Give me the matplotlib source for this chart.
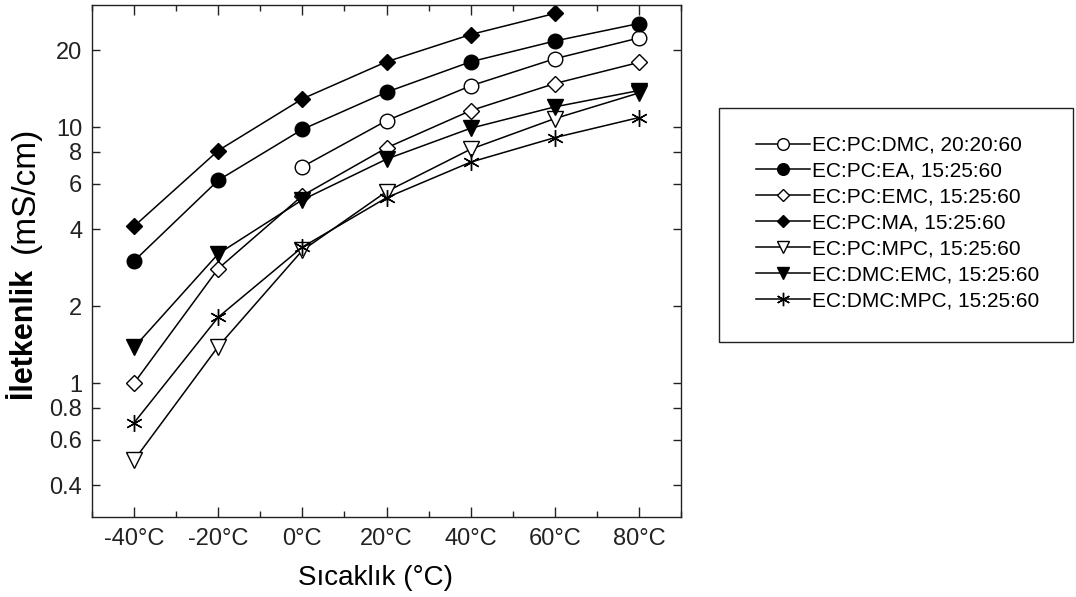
import matplotlib
matplotlib.use("Agg")
import matplotlib.pyplot as plt
import matplotlib.patches as patches
from matplotlib.ticker import FixedLocator, NullLocator, MultipleLocator

plt.rcParams["font.family"] = ["Liberation Sans", "DejaVu Sans"]

# ---------------------------------------------------------------------------
# Data
# ---------------------------------------------------------------------------
temps = [-40, -20, 0, 20, 40, 60, 80]
temp_labels = ["-40°C", "-20°C", "0°C", "20°C", "40°C", "60°C", "80°C"]

pc_dmc = [None, None, 7.0, 10.6, 14.5, 18.5, 22.3]
pc_ea = [3.0, 6.2, 9.8, 13.7, 18.0, 21.7, 25.4]
pc_emc = [1.0, 2.8, 5.4, 8.3, 11.6, 14.8, 17.9]
pc_ma = [4.1, 8.1, 12.9, 18.0, 23.0, 27.8, None]
pc_mpc = [0.50, 1.39, 3.3, 5.6, 8.2, 10.8, 13.6]
dmc_emc = [1.38, 3.2, 5.2, 7.5, 9.9, 12.0, 13.9]
dmc_mpc = [0.70, 1.81, 3.4, 5.3, 7.3, 9.1, 10.9]

series_labels = [
    "EC:PC:DMC, 20:20:60",
    "EC:PC:EA, 15:25:60",
    "EC:PC:EMC, 15:25:60",
    "EC:PC:MA, 15:25:60",
    "EC:PC:MPC, 15:25:60",
    "EC:DMC:EMC, 15:25:60",
    "EC:DMC:MPC, 15:25:60",
]

y_ticks = [0.4, 0.6, 0.8, 1, 2, 4, 6, 8, 10, 20]
y_tick_labels = ["0.4", "0.6", "0.8", "1", "2", "4", "6", "8", "10", "20"]

# marker style per series: (marker, size, face colour)
styles = [
    ("o", 10.5, "white"),
    ("o", 10.5, "black"),
    ("D", 8, "white"),
    ("D", 8, "black"),
    ("v", 11, "white"),
    ("v", 11, "black"),
    ((6, 2, 0), 12, "black"),
]

W, H = 1076, 597
fig = plt.figure(figsize=(W / 100, H / 100), dpi=100)
ax = fig.add_axes([92 / W, 1 - 517 / H, (681 - 92) / W, (517 - 5) / H])

all_series = [pc_dmc, pc_ea, pc_emc, pc_ma, pc_mpc, dmc_emc, dmc_mpc]
handles = []
for vals, label, (mk, ms, fc) in zip(all_series, series_labels, styles):
    xs = [t for t, v in zip(temps, vals) if v is not None]
    ys = [v for v in vals if v is not None]
    (h,) = ax.plot(
        xs, ys, color="black", linewidth=1.1,
        marker=mk, markersize=ms, markerfacecolor=fc,
        markeredgecolor="black", markeredgewidth=1.0, label=label,
    )
    handles.append(h)

ax.set_yscale("log")
ax.set_xlim(-50, 90)
ax.set_ylim(0.3, 30)

ax.xaxis.set_major_locator(FixedLocator(temps))
ax.set_xticklabels(temp_labels)
ax.xaxis.set_minor_locator(MultipleLocator(10))
ax.yaxis.set_major_locator(FixedLocator(y_ticks))
ax.yaxis.set_minor_locator(NullLocator())
ax.set_yticklabels(y_tick_labels)

ax.tick_params(axis="both", which="both", direction="in",
               top=True, right=True, width=1.0, colors="#222222",
               labelsize=17)
ax.tick_params(axis="x", which="major", length=7, pad=8)
ax.tick_params(axis="x", which="minor", length=4)
ax.tick_params(axis="y", which="major", length=6, pad=7)
for sp in ax.spines.values():
    sp.set_linewidth(1.0)
    sp.set_color("#222222")

# axis titles
fig.text(376 / W, 1 - 578 / H, "Sıcaklık (°C)", ha="center", va="center",
         fontsize=20, color="black")
fig.text(23 / W, 1 - 398 / H, "İletkenlik", rotation=90, ha="center",
         va="bottom", fontsize=22, fontweight="bold", color="black")
fig.text(25 / W, 1 - 253 / H, "(mS/cm)", rotation=90, ha="center",
         va="bottom", fontsize=24, color="black")

# legend with square frame
frame = patches.Rectangle((719 / W, 1 - 342 / H), (1073 - 719) / W,
                          (342 - 108) / H, transform=fig.transFigure,
                          facecolor="white", edgecolor="#222222",
                          linewidth=1.0)
fig.patches.append(frame)
fig.legend(handles=handles, loc="center left",
           bbox_to_anchor=(756 / W, 1 - 223 / H), frameon=False,
           fontsize=15, borderpad=0, borderaxespad=0, handlelength=2.6,
           handletextpad=0.1, labelspacing=0.33, markerscale=0.8)

fig.savefig("out.png", dpi=100)
